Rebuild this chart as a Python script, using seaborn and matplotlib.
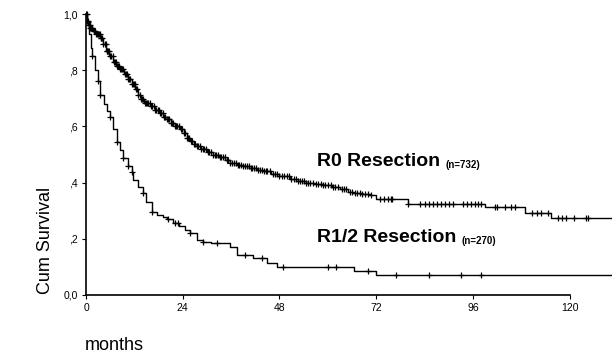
import numpy as np
import pandas as pd
import matplotlib
matplotlib.use("Agg")
import matplotlib.pyplot as plt
import seaborn as sns

# Kaplan-Meier knots (months, cumulative survival)
r0_months = [0, 0.3, 0.6, 1, 1.7, 2.5, 3.5, 4.2, 5, 5.8, 6.7, 7.5, 8.4, 9.4, 10.4, 11.3,
             12.2, 13, 13.6, 14.5, 15.9, 17, 18.4, 19.1, 20, 21, 22, 23.3, 24.2, 25,
             25.8, 26.7, 27.5, 28.5, 30, 31.5, 33, 34.5, 35.7, 37.5, 39, 40.5, 42.4,
             44, 46, 48, 50.6, 52.5, 54.5, 56.5, 58.8, 61, 63, 65, 66.3, 68.5, 70.5,
             72, 80, 99, 109, 115.4, 132]
r0_surv = [1.0, 0.975, 0.96, 0.95, 0.94, 0.93, 0.915, 0.893, 0.87, 0.85, 0.83, 0.815,
           0.803, 0.787, 0.77, 0.75, 0.733, 0.712, 0.698, 0.685, 0.672, 0.66, 0.648,
           0.635, 0.625, 0.613, 0.602, 0.59, 0.575, 0.56, 0.548, 0.538, 0.529, 0.52,
           0.51, 0.5, 0.49, 0.48, 0.47, 0.464, 0.458, 0.452, 0.446, 0.44, 0.432,
           0.422, 0.412, 0.405, 0.4, 0.395, 0.39, 0.383, 0.376, 0.368, 0.362, 0.358,
           0.355, 0.34, 0.325, 0.313, 0.292, 0.274, 0.274]

r12_months = [0, 0.3, 0.8, 1.2, 1.5, 2.2, 3, 3.5, 4.5, 5.2, 6, 6.8, 7.7, 8.5, 9.2, 10.3,
              11.4, 11.7, 12.8, 14.1, 15, 16.4, 17.5, 19, 20.2, 21.5, 23, 24.5, 25.8,
              27.5, 29, 31, 35.7, 37.4, 41.5, 44.9, 47.4, 66.5, 72, 132]
r12_surv = [1.0, 0.97, 0.93, 0.88, 0.85, 0.8, 0.76, 0.71, 0.68, 0.655, 0.632, 0.59,
            0.546, 0.515, 0.489, 0.46, 0.437, 0.41, 0.385, 0.364, 0.33, 0.296, 0.285,
            0.278, 0.27, 0.257, 0.245, 0.232, 0.22, 0.196, 0.19, 0.185, 0.171, 0.143,
            0.132, 0.114, 0.10, 0.086, 0.07, 0.07]

# censored observations (months)
r0_censored = [0.1, 0.2, 0.35, 0.5, 0.65, 0.8, 0.95, 1.1, 1.25, 1.4, 1.6, 1.9, 2.1, 2.3,
               2.5, 2.7, 2.95, 3.2, 3.4, 3.6, 3.8, 4.0, 4.3, 4.6, 4.85, 5.1, 5.3, 5.5,
               5.75, 6.0, 6.3, 6.6, 6.85, 7.1, 7.4, 7.7, 7.95, 8.2, 8.5, 8.8, 9.05,
               9.3, 9.6, 9.9, 10.2, 10.5, 10.75, 11.0, 11.3, 11.6, 11.85, 12.1, 12.4,
               12.7, 13.0, 13.3, 13.6, 13.9, 14.25, 14.6, 14.9, 15.2, 15.5, 15.8, 16.1,
               16.5, 16.8, 17.1, 17.4, 17.8, 18.1, 18.4, 18.7, 19.0, 19.3, 19.7, 20.0,
               20.4, 20.7, 21.0, 21.4, 21.7, 22.0, 22.4, 22.7, 23.1, 23.5, 23.8, 24.2,
               24.6, 25.0, 25.3, 25.6, 26.0, 26.4, 26.8, 27.1, 27.5, 27.9, 28.3, 28.6,
               29.0, 29.4, 29.8, 30.2, 30.6, 31.0, 31.5, 31.9, 32.3, 32.8, 33.2, 33.6,
               34.0, 34.4, 34.9, 35.3, 35.8, 36.2, 36.7, 37.1, 37.6, 38.0, 38.5, 39.0,
               39.5, 40.0, 40.4, 40.9, 41.3, 41.8, 42.3, 42.7, 43.2, 43.6, 44.1, 44.6,
               45.0, 45.6, 46.3, 46.9, 47.5, 48.0, 48.6, 49.2, 49.8, 50.3, 50.9, 51.5,
               52.1, 52.6, 53.0, 53.6, 54.2, 54.7, 55.1, 55.7, 56.3, 57.0, 57.6, 58.2,
               58.8, 59.4, 60.1, 60.7, 61.3, 61.9, 62.5, 63.4, 64.0, 64.6, 65.5, 66.0,
               66.7, 67.3, 67.9, 68.5, 69.2, 70.0, 70.8, 73, 74, 75, 75.6, 76, 80, 83,
               84, 85, 86, 87, 88, 89, 90, 91, 93.5, 94.5, 95.5, 96.5, 97.3, 98, 101.5,
               102, 104, 105.5, 106.5, 110.7, 112, 113, 114.6, 117, 118, 119, 121, 124,
               124.6]
r12_censored = [0.5, 1.5, 3, 3.5, 6, 7.7, 9.2, 10.5, 11.4, 14.1, 16.4, 20.3, 22, 22.8,
                25.8, 29, 32.5, 39.5, 43.7, 48.9, 60, 62, 70, 77, 85, 93, 98]

x_ticks = [0, 24, 48, 72, 96, 120]
y_ticks = [0.0, 0.2, 0.4, 0.6, 0.8, 1.0]
y_ticklabels = ["0,0", ",2", ",4", ",6", ",8", "1,0"]


def surv_at(months, surv, times):
    idx = np.searchsorted(months, times, side="right") - 1
    return np.asarray(surv)[idx]


sns.set_style("ticks")
plt.rcParams["font.family"] = ["Liberation Sans", "DejaVu Sans"]
plt.rcParams["text.color"] = "black"

fig = plt.figure(figsize=(6.12, 3.6), dpi=100)
ax = fig.add_axes([86 / 612, 65 / 360, 526 / 612, 287 / 360])

for months, surv, cens in [(r0_months, r0_surv, r0_censored),
                           (r12_months, r12_surv, r12_censored)]:
    df = pd.DataFrame({"months": months, "surv": surv})
    sns.lineplot(data=df, x="months", y="surv", drawstyle="steps-post",
                 color="black", linewidth=1.0, estimator=None, sort=False, ax=ax)
    cdf = pd.DataFrame({"months": cens, "surv": surv_at(months, surv, cens)})
    sns.scatterplot(data=cdf, x="months", y="surv", marker="+", s=16,
                    color="black", linewidth=0.9, ax=ax)

ax.set_xlim(0, 526 / 4.03)
ax.set_ylim(0, 287 / 281)
ax.spines["top"].set_visible(False)
ax.spines["right"].set_visible(False)
ax.spines["left"].set_bounds(0, 1)
ax.spines["bottom"].set_bounds(0, 120)
ax.spines["left"].set_linewidth(1.2)
ax.spines["bottom"].set_linewidth(1.2)
ax.spines["left"].set_color("black")
ax.spines["bottom"].set_color("black")
ax.set_xticks(x_ticks)
ax.set_xticklabels([str(v) for v in x_ticks])
ax.set_yticks(y_ticks)
ax.set_yticklabels(y_ticklabels)
ax.tick_params(axis="both", labelsize=7.5, length=3, width=0.8, colors="black", pad=3)
ax.set_xlabel("")
ax.set_ylabel("")

fig.text(45 / 612, 1 - 240 / 360, "Cum Survival", rotation=90, fontsize=13,
         ha="center", va="center", color="black")
fig.text(85 / 612, 1 - 345 / 360, "months", fontsize=13, ha="left", va="center",
         color="black")

t1 = ax.text(57.3, 0.459, "R0 Resection", fontsize=14, fontweight="bold",
             va="baseline", ha="left", color="black")
ax.annotate("(n=732)", xy=(1, 0), xycoords=t1, xytext=(4, 0),
            textcoords="offset points", fontsize=7, fontweight="bold", va="bottom",
            color="black")
t2 = ax.text(57.3, 0.189, "R1/2 Resection", fontsize=14, fontweight="bold",
             va="baseline", ha="left", color="black")
ax.annotate("(n=270)", xy=(1, 0), xycoords=t2, xytext=(4, 0),
            textcoords="offset points", fontsize=7, fontweight="bold", va="bottom",
            color="black")

fig.savefig("out.png", dpi=100)
